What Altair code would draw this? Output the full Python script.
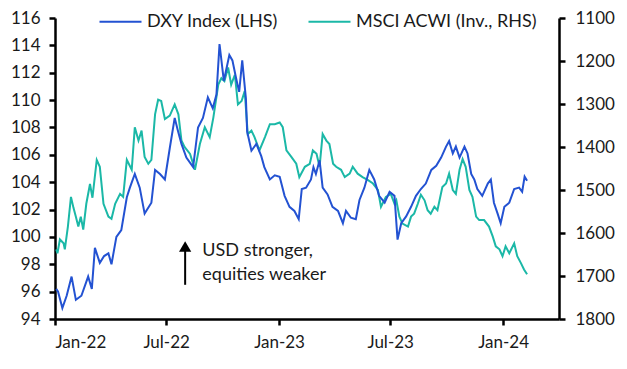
import altair as alt
import pandas as pd

dxy_dates = [
    "2022-01-03", "2022-01-06", "2022-01-13", "2022-01-20", "2022-01-28", "2022-02-04", "2022-02-13",
    "2022-02-24", "2022-03-02", "2022-03-07", "2022-03-15", "2022-03-22", "2022-03-29", "2022-04-03",
    "2022-04-11", "2022-04-19", "2022-04-28", "2022-05-03", "2022-05-11", "2022-05-19", "2022-05-27",
    "2022-06-07", "2022-06-13", "2022-06-21", "2022-06-29", "2022-07-07", "2022-07-15", "2022-07-20",
    "2022-07-26", "2022-08-03", "2022-08-14", "2022-08-22", "2022-08-30", "2022-09-07", "2022-09-15",
    "2022-09-21", "2022-09-26", "2022-10-03", "2022-10-12", "2022-10-17", "2022-10-23", "2022-10-28",
    "2022-11-02", "2022-11-08", "2022-11-10", "2022-11-17", "2022-11-25", "2022-12-03", "2022-12-08",
    "2022-12-17", "2022-12-25", "2023-01-02", "2023-01-10", "2023-01-18", "2023-01-26", "2023-02-02",
    "2023-02-07", "2023-02-14", "2023-02-22", "2023-02-26", "2023-03-02", "2023-03-08", "2023-03-13",
    "2023-03-21", "2023-03-29", "2023-04-07", "2023-04-15", "2023-04-20", "2023-04-28", "2023-05-06",
    "2023-05-12", "2023-05-20", "2023-05-28", "2023-06-05", "2023-06-13", "2023-06-22", "2023-06-30",
    "2023-07-08", "2023-07-13", "2023-07-19", "2023-07-27", "2023-08-04", "2023-08-12", "2023-08-20",
    "2023-08-28", "2023-09-06", "2023-09-14", "2023-09-22", "2023-09-30", "2023-10-05", "2023-10-11",
    "2023-10-16", "2023-10-22", "2023-10-30", "2023-11-04", "2023-11-10", "2023-11-15", "2023-11-20",
    "2023-11-28", "2023-12-07", "2023-12-12", "2023-12-17", "2023-12-23", "2023-12-28", "2024-01-03",
    "2024-01-11", "2024-01-19", "2024-01-27", "2024-02-01", "2024-02-05", "2024-02-09",
]
dxy_values = [
    96.2, 96.0, 94.8, 95.7, 97.1, 95.4, 95.7,
    97.1, 96.2, 99.2, 98.1, 98.6, 98.8, 98.0,
    100.0, 100.5, 102.9, 103.6, 104.6, 103.6, 101.7,
    102.5, 104.9, 104.6, 104.2, 106.5, 108.7, 107.8,
    106.8, 105.8, 105.1, 108.0, 108.7, 110.2, 109.4,
    110.4, 114.1, 111.4, 113.3, 112.9, 111.6, 110.6,
    112.9, 110.1, 107.7, 106.3, 106.8, 105.9, 105.1,
    104.2, 104.5, 104.4, 103.0, 102.2, 101.9, 101.3,
    103.5, 103.6, 104.2, 105.1, 104.6, 105.6, 103.6,
    103.1, 102.2, 101.9, 101.0, 101.9, 101.4, 101.3,
    102.7, 103.6, 104.9, 104.2, 103.0, 102.5, 103.3,
    103.0, 99.8, 101.0, 101.5, 102.2, 103.0, 103.5,
    103.9, 104.9, 105.2, 105.8, 106.6, 107.0, 106.1,
    106.6, 105.8, 106.6, 106.1, 104.6, 104.2, 103.5,
    103.0, 103.9, 104.2, 102.5, 101.7, 101.0, 102.2,
    102.5, 103.5, 103.6, 103.3, 104.4, 104.1,
]

msci_dates = [
    "2022-01-03", "2022-01-05", "2022-01-09", "2022-01-15", "2022-01-17", "2022-01-22", "2022-01-27",
    "2022-01-31", "2022-02-04", "2022-02-08", "2022-02-12", "2022-02-16", "2022-02-21", "2022-02-27",
    "2022-03-03", "2022-03-10", "2022-03-15", "2022-03-21", "2022-03-29", "2022-04-03", "2022-04-09",
    "2022-04-17", "2022-04-22", "2022-04-28", "2022-05-06", "2022-05-11", "2022-05-17", "2022-05-22",
    "2022-05-27", "2022-06-02", "2022-06-07", "2022-06-13", "2022-06-18", "2022-06-23", "2022-06-29",
    "2022-07-07", "2022-07-15", "2022-07-21", "2022-07-26", "2022-07-31", "2022-08-09", "2022-08-17",
    "2022-08-25", "2022-09-02", "2022-09-10", "2022-09-16", "2022-09-24", "2022-09-29", "2022-10-04",
    "2022-10-10", "2022-10-15", "2022-10-21", "2022-10-26", "2022-11-01", "2022-11-06", "2022-11-11",
    "2022-11-17", "2022-11-22", "2022-11-30", "2022-12-09", "2022-12-17", "2022-12-25", "2023-01-02",
    "2023-01-07", "2023-01-13", "2023-01-21", "2023-01-29", "2023-02-03", "2023-02-12", "2023-02-20",
    "2023-02-25", "2023-03-03", "2023-03-08", "2023-03-13", "2023-03-19", "2023-03-24", "2023-03-30",
    "2023-04-04", "2023-04-12", "2023-04-18", "2023-04-26", "2023-05-01", "2023-05-09", "2023-05-17",
    "2023-05-26", "2023-06-03", "2023-06-11", "2023-06-16", "2023-06-24", "2023-07-02", "2023-07-08",
    "2023-07-11", "2023-07-16", "2023-07-21", "2023-07-30", "2023-08-04", "2023-08-09", "2023-08-15",
    "2023-08-20", "2023-08-26", "2023-08-31", "2023-09-05", "2023-09-11", "2023-09-16", "2023-09-24",
    "2023-09-30", "2023-10-05", "2023-10-11", "2023-10-16", "2023-10-22", "2023-10-27", "2023-11-01",
    "2023-11-07", "2023-11-12", "2023-11-18", "2023-11-23", "2023-12-01", "2023-12-09", "2023-12-15",
    "2023-12-20", "2023-12-26", "2023-12-31", "2024-01-05", "2024-01-11", "2024-01-19", "2024-01-24",
    "2024-01-30", "2024-02-04", "2024-02-09",
]
msci_values = [
    1638, 1647, 1615, 1624, 1638, 1585, 1516,
    1541, 1562, 1585, 1562, 1592, 1532, 1486,
    1518, 1430, 1446, 1532, 1562, 1567, 1532,
    1509, 1516, 1430, 1453, 1354, 1385, 1362,
    1423, 1439, 1430, 1324, 1290, 1293, 1335,
    1327, 1301, 1324, 1385, 1400, 1416, 1453,
    1393, 1354, 1377, 1331, 1255, 1240, 1247,
    1215, 1255, 1232, 1301, 1293, 1270, 1370,
    1362, 1377, 1408, 1377, 1347, 1347, 1343,
    1354, 1408, 1423, 1439, 1470, 1446, 1439,
    1408, 1416, 1446, 1370, 1385, 1393, 1439,
    1446, 1453, 1470, 1462, 1446, 1462, 1470,
    1477, 1485, 1500, 1539, 1516, 1509, 1532,
    1524, 1562, 1578, 1585, 1562, 1555, 1532,
    1511, 1524, 1547, 1555, 1539, 1547, 1493,
    1485, 1462, 1500, 1509, 1453, 1428, 1446,
    1500, 1516, 1562, 1570, 1570, 1585, 1608,
    1631, 1638, 1654, 1631, 1647, 1624, 1654,
    1670, 1685, 1696,
]

series_names = ["DXY Index (LHS)", "MSCI ACWI (Inv., RHS)"]
series_colors = ["#2352D2", "#1BB8A7"]

left_ticks = list(range(94, 117, 2))
right_ticks = list(range(1100, 1801, 100))

annot_lines = ["USD stronger,", "equities weaker"]
annot_date = "2022-08-29"
annot_y = [98.6, 96.85]
arrow_date = "2022-08-01"
arrow_y = [96.5, 99.1]
arrow_head_y = [99.3]

FONT = "Lato"
FS = 18
TICK_FS = 17
INK = "#1a1a1a"

dxy_df = pd.DataFrame({"date": dxy_dates, "value": dxy_values, "series": series_names[0]})
msci_df = pd.DataFrame({"date": msci_dates, "value": msci_values, "series": series_names[1]})
text_df = pd.DataFrame({"date": [annot_date] * 2, "y": annot_y, "label": annot_lines})
rule_df = pd.DataFrame({"date": [arrow_date], "y0": [arrow_y[0]], "y1": [arrow_y[1]]})
head_df = pd.DataFrame({"date": [arrow_date], "y": arrow_head_y})


def dt(y, m, d=1):
    return alt.DateTime(year=y, month=m, date=d, utc=True)


x_scale = alt.Scale(type="utc", domain=[dt(2022, 1), dt(2024, 4)])
x_axis = alt.Axis(
    values=[dt(2022, 1), dt(2022, 7), dt(2023, 1), dt(2023, 7), dt(2024, 1)],
    labelExpr="utcFormat(datum.value, '%b-%y')", title=None, labelPadding=9,
)
left_scale = alt.Scale(domain=[94, 116], nice=False, zero=False)
left_axis = alt.Axis(values=left_ticks, title=None, labelPadding=9, format="d")
right_scale = alt.Scale(domain=[1100, 1800], nice=False, zero=False, reverse=True)
right_axis = alt.Axis(values=right_ticks, title=None, orient="right", labelPadding=10, format="d")

color = alt.Color(
    "series:N",
    scale=alt.Scale(domain=series_names, range=series_colors),
    legend=alt.Legend(
        title=None, orient="none", legendX=43, legendY=-19, direction="horizontal",
        symbolType="stroke", symbolSize=1764, symbolStrokeWidth=2.2,
        labelFontSize=FS, labelFont=FONT, labelColor=INK, labelOffset=4,
        columnPadding=25, labelLimit=400,
    ),
)

X = alt.X("date:T", scale=x_scale, axis=x_axis)

dxy_line = alt.Chart(dxy_df).mark_line(strokeWidth=2).encode(
    x=X, y=alt.Y("value:Q", scale=left_scale, axis=left_axis), color=color
)
arrow_rule = alt.Chart(rule_df).mark_rule(color="black", strokeWidth=2).encode(
    x=X, y=alt.Y("y0:Q", scale=left_scale, axis=left_axis), y2="y1:Q"
)
arrow_head = alt.Chart(head_df).mark_point(
    shape="triangle-up", filled=True, color="black", size=150, opacity=1
).encode(x=X, y=alt.Y("y:Q", scale=left_scale, axis=left_axis))
annot = alt.Chart(text_df).mark_text(
    align="left", baseline="alphabetic", fontSize=FS, font=FONT, color=INK
).encode(x=X, y=alt.Y("y:Q", scale=left_scale, axis=left_axis), text="label:N")

left_layer = alt.layer(dxy_line, arrow_rule, arrow_head, annot)

msci_line = alt.Chart(msci_df).mark_line(strokeWidth=2).encode(
    x=X, y=alt.Y("value:Q", scale=right_scale, axis=right_axis), color=color
)

chart = (
    alt.layer(msci_line, left_layer)
    .resolve_scale(y="independent")
    .properties(
        width=504, height=301,
        autosize=alt.AutoSizeParams(type="none"),
        padding={"left": 47, "top": 10, "right": 60, "bottom": 39},
        background="white",
    )
    .configure_view(strokeWidth=0)
    .configure_axis(
        grid=False, domainColor="black", domainWidth=2.5, tickColor="black",
        tickWidth=2.5, tickSize=6, labelFont=FONT, labelFontSize=TICK_FS, labelColor=INK,
    )
)

chart.save("out.html", embed_options={"renderer": "svg", "actions": False})
